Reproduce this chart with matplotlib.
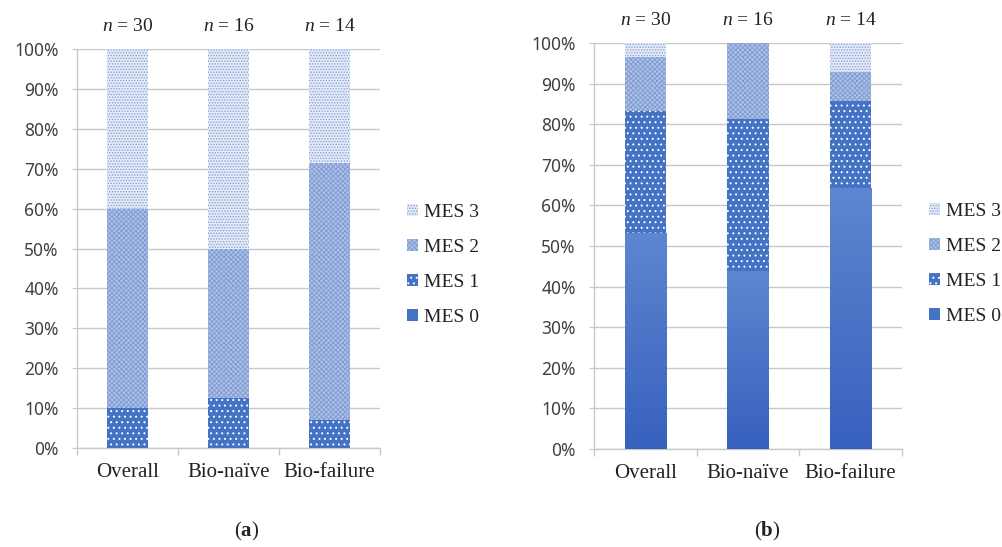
import matplotlib
matplotlib.use("Agg")
import matplotlib.pyplot as plt
import numpy as np
from matplotlib.patches import Patch
from matplotlib.ticker import FixedLocator, PercentFormatter

# ---- data ----
categories = ['Overall', 'Bio-naïve', 'Bio-failure']
n_values = [30, 16, 14]
series_names = ['MES 0', 'MES 1', 'MES 2', 'MES 3']

a_mes0 = [0.0, 0.0, 0.0]
a_mes1 = [10.0, 12.5, 7.1]
a_mes2 = [50.0, 37.5, 64.3]
a_mes3 = [40.0, 50.0, 28.6]

b_mes0 = [53.3, 43.75, 64.3]
b_mes1 = [30.0, 37.5, 21.4]
b_mes2 = [13.3, 18.75, 7.1]
b_mes3 = [3.3, 0.0, 7.1]

panel_labels = ['a', 'b']

# ---- style ----
plt.rcParams['mathtext.fontset'] = 'custom'
plt.rcParams['mathtext.rm'] = 'Liberation Serif'
plt.rcParams['mathtext.it'] = 'Liberation Serif:italic'
plt.rcParams['mathtext.bf'] = 'Liberation Serif:bold'
plt.rcParams['hatch.linewidth'] = 0.7

SERIF = 'Liberation Serif'
SANS = 'Noto Sans'
GRID = '#C8C8C8'

styles = [
    dict(facecolor='#4472C4', edgecolor='#4472C4', hatch=None),
    dict(facecolor='#4472C4', edgecolor='white', hatch='...'),
    dict(facecolor='#AFC1E5', edgecolor='#819DD5', hatch='xxxxxxx'),
    dict(facecolor='#E6ECF7', edgecolor='#86A0D6', hatch='......'),
]

W, H = 1003, 547
fig = plt.figure(figsize=(W / 100, H / 100), dpi=100)

def fx(px):
    return px / W

def fy(py):
    return 1 - py / H

grad_cmap = matplotlib.colors.LinearSegmentedColormap.from_list(
    'g', ['#3761BE', '#5F86D0'])

def draw_panel(rect, data, gradient, legend_xy, label_xy, label):
    ax = fig.add_axes(rect)
    x = np.arange(len(categories))
    bottom = np.zeros(len(categories))
    width = 0.40
    for i, vals in enumerate(data):
        vals = np.array(vals)
        st = styles[i]
        bars = ax.bar(x, vals, width, bottom=bottom, facecolor=st['facecolor'],
                      edgecolor=st['edgecolor'], hatch=st['hatch'],
                      linewidth=0, zorder=3)
        if i == 0 and gradient:
            for b in bars:
                if b.get_height() <= 0:
                    continue
                x0, y0 = b.get_x(), b.get_y()
                x1, y1 = x0 + b.get_width(), y0 + b.get_height()
                g = np.linspace(0, 1, 256).reshape(-1, 1)
                im = ax.imshow(g, cmap=grad_cmap, extent=(x0, x1, y0, y1),
                               origin='lower', aspect='auto', zorder=3.5,
                               interpolation='bicubic')
                im.set_clip_path(b)
        bottom = bottom + vals
    ax.set_xlim(-0.5, len(categories) - 0.5)
    ax.set_ylim(0, 100)
    ax.set_yticks(np.arange(0, 101, 10))
    ax.yaxis.set_major_formatter(PercentFormatter(decimals=0))
    ax.grid(axis='y', color=GRID, linewidth=1.0, zorder=0)
    ax.set_axisbelow(True)
    for s in ['top', 'right']:
        ax.spines[s].set_visible(False)
    for s in ['left', 'bottom']:
        ax.spines[s].set_color(GRID)
        ax.spines[s].set_linewidth(1.0)
    ax.tick_params(axis='y', length=3.6, color=GRID, pad=9.5,
                   labelsize=12.5, labelcolor='#404040')
    for t in ax.get_yticklabels():
        t.set_fontfamily(SANS)
    ax.set_xticks(x)
    ax.set_xticklabels(categories, fontfamily=SERIF, fontsize=15, color='#222222')
    ax.tick_params(axis='x', which='major', length=0, pad=11)
    ax.xaxis.set_minor_locator(FixedLocator(np.arange(-0.5, len(categories), 1.0)))
    ax.tick_params(axis='x', which='minor', length=5, color=GRID, width=1.0)
    # n labels
    for xi, n in zip(x, n_values):
        ax.annotate(r'$\mathit{n}$ = ' + str(n), xy=(xi, 100), xycoords='data',
                    xytext=(0, 16), textcoords='offset points', ha='center',
                    va='center', fontfamily=SERIF, fontsize=14, color='#222222')
    handles = [Patch(facecolor=st['facecolor'], edgecolor=st['edgecolor'],
                     hatch=st['hatch'], linewidth=0) for st in styles]
    leg = fig.legend(handles[::-1], series_names[::-1], loc='center left',
                     bbox_to_anchor=(fx(legend_xy[0]), fy(legend_xy[1])),
                     frameon=False, borderpad=0, borderaxespad=0,
                     handlelength=0.55, handleheight=0.55, handletextpad=0.3,
                     labelspacing=0.93, prop={'family': SERIF, 'size': 14})
    for t in leg.get_texts():
        t.set_color('#222222')
    fig.text(fx(label_xy[0]), fy(label_xy[1]), '(' + r'$\mathbf{' + label + '}$' + ')',
             ha='center', va='center', fontfamily=SERIF, fontsize=15, color='#222222')
    return ax

data_a = [a_mes0, a_mes1, a_mes2, a_mes3]
data_b = [b_mes0, b_mes1, b_mes2, b_mes3]

draw_panel([fx(77), fy(448), fx(380) - fx(77), fy(49) - fy(448)], data_a, False,
           (407, 265), (247, 531), panel_labels[0])
draw_panel([fx(594), fy(449), fx(902) - fx(594), fy(43) - fy(449)], data_b, True,
           (929, 264), (767, 531), panel_labels[1])

fig.savefig('out.png', dpi=100)
